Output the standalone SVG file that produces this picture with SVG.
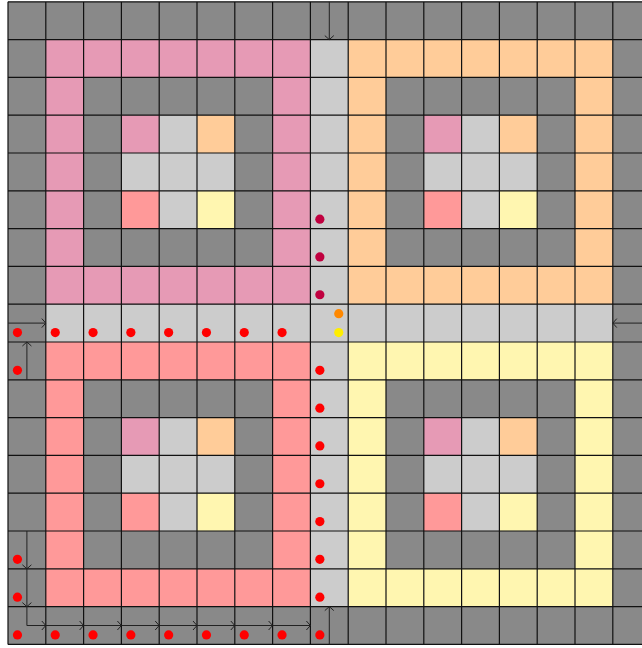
<svg xmlns="http://www.w3.org/2000/svg" xmlns:xlink="http://www.w3.org/1999/xlink" width="642" height="648" viewBox="0 0 642 648">
<style>
.gray{fill:#898989}
.lg{fill:#cccccc}
.pink{fill:#e69ab5}
.peach{fill:#ffcc99}
.salmon{fill:#ff9999}
.yellow{fill:#fff6b0}
.grid{fill:none;stroke:#111;stroke-width:1.2}
.red{fill:#ff0000}
.dark{fill:#c0003f}
.conn{fill:none;stroke:#222;stroke-width:1}
</style>
<defs>
<marker id="chev" viewBox="-6 -6 8 12" refX="0" refY="0" markerWidth="8" markerHeight="12" markerUnits="userSpaceOnUse" orient="auto">
<path d="M-4,-4.5 L0,0 L-4,4.5" fill="none" stroke="#222" stroke-width="1"/>
</marker>
<g id="inner">
<rect class="gray" x="37.8" y="37.8" width="189" height="189"/>
<rect class="lg" x="75.6" y="75.6" width="113.4" height="113.4"/>
<rect class="pink" x="75.6" y="75.6" width="37.8" height="37.8"/>
<rect class="peach" x="151.2" y="75.6" width="37.8" height="37.8"/>
<rect class="salmon" x="75.6" y="151.2" width="37.8" height="37.8"/>
<rect class="yellow" x="151.2" y="151.2" width="37.8" height="37.8"/>
</g>
</defs>
<rect width="642" height="648" fill="#ffffff"/>
<g id="board">
<rect class="gray" x="8" y="1.8" width="642.6" height="642.6"/>
<rect class="lg" x="45.8" y="304.2" width="567" height="37.8"/>
<rect class="lg" x="310.4" y="39.6" width="37.8" height="567"/>
</g>
<g id="room-top-left" transform="translate(45.8,39.6)">
<rect class="pink" width="264.6" height="264.6"/>
<use xlink:href="#inner" href="#inner"/>
</g>
<g id="room-top-right" transform="translate(348.2,39.6)">
<rect class="peach" width="264.6" height="264.6"/>
<use xlink:href="#inner" href="#inner"/>
</g>
<g id="room-bottom-left" transform="translate(45.8,342)">
<rect class="salmon" width="264.6" height="264.6"/>
<use xlink:href="#inner" href="#inner"/>
</g>
<g id="room-bottom-right" transform="translate(348.2,342)">
<rect class="yellow" width="264.6" height="264.6"/>
<use xlink:href="#inner" href="#inner"/>
</g>
<path id="gridlines" class="grid" d="M8,1.8V644.4M45.8,1.8V644.4M83.6,1.8V644.4M121.4,1.8V644.4M159.2,1.8V644.4M197,1.8V644.4M234.8,1.8V644.4M272.6,1.8V644.4M310.4,1.8V644.4M348.2,1.8V644.4M386,1.8V644.4M423.8,1.8V644.4M461.6,1.8V644.4M499.4,1.8V644.4M537.2,1.8V644.4M575,1.8V644.4M612.8,1.8V644.4
M8,1.8H650.6M8,39.6H650.6M8,77.4H650.6M8,115.2H650.6M8,153H650.6M8,190.8H650.6M8,228.6H650.6M8,266.4H650.6M8,304.2H650.6M8,342H650.6M8,379.8H650.6M8,417.6H650.6M8,455.4H650.6M8,493.2H650.6M8,531H650.6M8,568.8H650.6M8,606.6H650.6M8,644.4H650.6"/>
<g id="connectors" class="conn">
<path d="M329.3,1.8V39.6" marker-end="url(#chev)"/>
<path d="M650.6,323.1H612.8" marker-end="url(#chev)"/>
<path d="M8,323.1H45.8" marker-end="url(#chev)"/>
<path d="M26.9,379.8V342" marker-end="url(#chev)"/>
<path d="M26.9,531V568.8" marker-end="url(#chev)"/>
<path d="M26.9,568.8V606.6" marker-end="url(#chev)"/>
<path d="M26.9,606.6V625.5H45.8" marker-end="url(#chev)"/>
<path d="M45.8,625.5H83.6" marker-end="url(#chev)"/>
<path d="M83.6,625.5H121.4" marker-end="url(#chev)"/>
<path d="M121.4,625.5H159.2" marker-end="url(#chev)"/>
<path d="M159.2,625.5H197" marker-end="url(#chev)"/>
<path d="M197,625.5H234.8" marker-end="url(#chev)"/>
<path d="M234.8,625.5H272.6" marker-end="url(#chev)"/>
<path d="M272.6,625.5H310.4" marker-end="url(#chev)"/>
<path d="M329.3,644.4V606.6" marker-end="url(#chev)"/>
</g>
<g id="tokens">
<g class="red">
<circle cx="17.45" cy="332.55" r="4.6"/><circle cx="55.25" cy="332.55" r="4.6"/><circle cx="93.05" cy="332.55" r="4.6"/><circle cx="130.85" cy="332.55" r="4.6"/><circle cx="168.65" cy="332.55" r="4.6"/><circle cx="206.45" cy="332.55" r="4.6"/><circle cx="244.25" cy="332.55" r="4.6"/><circle cx="282.05" cy="332.55" r="4.6"/>
<circle cx="17.45" cy="370.35" r="4.6"/><circle cx="17.45" cy="559.35" r="4.6"/><circle cx="17.45" cy="597.15" r="4.6"/><circle cx="17.45" cy="634.95" r="4.6"/>
<circle cx="55.25" cy="634.95" r="4.6"/><circle cx="93.05" cy="634.95" r="4.6"/><circle cx="130.85" cy="634.95" r="4.6"/><circle cx="168.65" cy="634.95" r="4.6"/><circle cx="206.45" cy="634.95" r="4.6"/><circle cx="244.25" cy="634.95" r="4.6"/><circle cx="282.05" cy="634.95" r="4.6"/><circle cx="319.85" cy="634.95" r="4.6"/>
<circle cx="319.85" cy="370.35" r="4.6"/><circle cx="319.85" cy="408.15" r="4.6"/><circle cx="319.85" cy="445.95" r="4.6"/><circle cx="319.85" cy="483.75" r="4.6"/><circle cx="319.85" cy="521.55" r="4.6"/><circle cx="319.85" cy="559.35" r="4.6"/><circle cx="319.85" cy="597.15" r="4.6"/>
</g>
<g class="dark">
<circle cx="319.85" cy="219.15" r="4.6"/><circle cx="319.85" cy="256.95" r="4.6"/><circle cx="319.85" cy="294.75" r="4.6"/>
</g>
<circle cx="338.75" cy="313.65" r="4.6" fill="#ff8800"/>
<circle cx="338.75" cy="332.55" r="4.6" fill="#ffee00"/>
</g>
</svg>
